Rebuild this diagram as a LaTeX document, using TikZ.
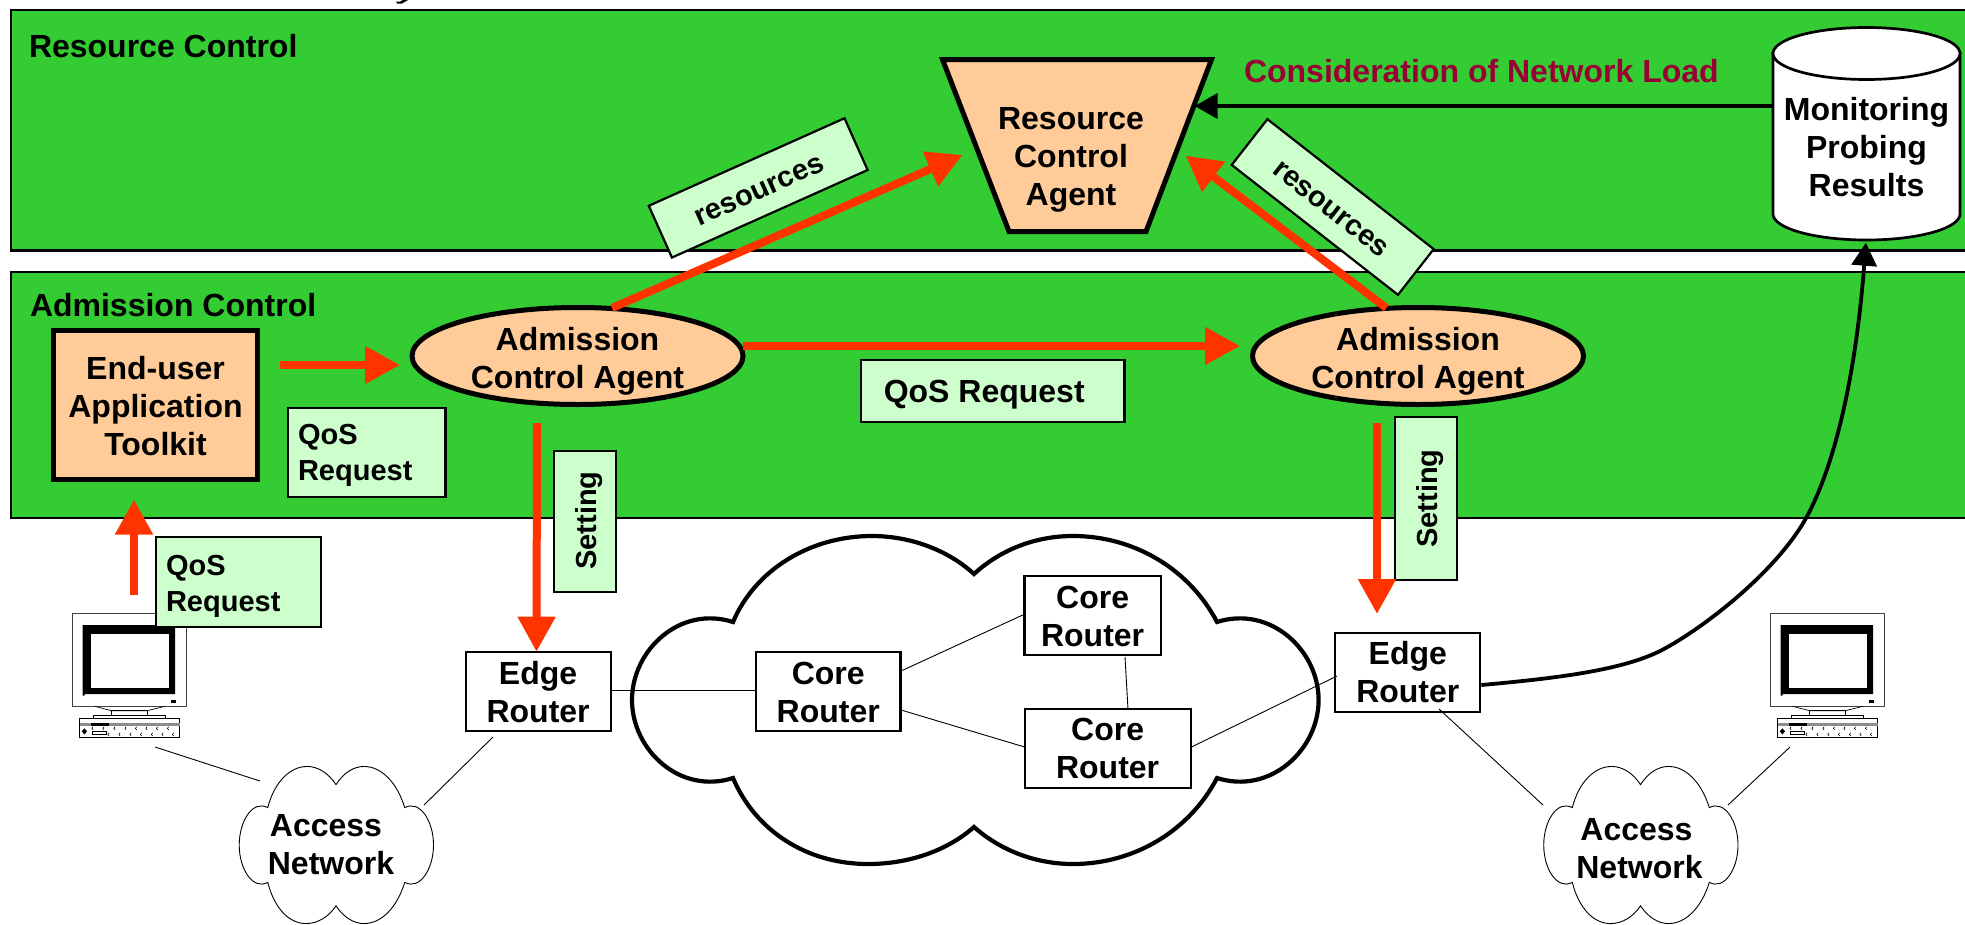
\documentclass[tikz,border=0pt]{standalone}
\usepackage{fontspec}
\setmainfont{Liberation Sans}
\usetikzlibrary{arrows.meta,shapes.geometric,calc}
\definecolor{panelgreen}{HTML}{33CC33}
\definecolor{peach}{HTML}{FFCC99}
\definecolor{palegreen}{HTML}{CCFFCC}
\definecolor{arrowred}{HTML}{FF3300}
\definecolor{loadred}{HTML}{990033}
% text block: dx from the node centre, raise of the last baseline, lines
\newcommand\tc[3]{\makebox[0pt][c]{\kern\dimexpr 2\dimexpr #1pt\relax\relax\raisebox{#2pt}[0pt][0pt]{\begin{tabular}[b]{@{}c@{}}#3\end{tabular}}}}
\newcommand\tll[3]{\makebox[0pt][l]{\kern#1pt\raisebox{#2pt}[0pt][0pt]{\begin{tabular}[b]{@{}l@{}}#3\end{tabular}}}}
\newcommand\cloudpath{(0,-126) .. controls (26,-150) and (61,-164) .. (99,-164) .. controls (161,-164) and (216,-130) .. (243,-78) .. controls (296,-95) and (344.6,-50) .. (344.6,0) .. controls (344.6,50) and (296,95) .. (243,78) .. controls (216,130) and (161,164) .. (99,164) .. controls (61,164) and (26,150) .. (0,127) .. controls (-26,150) and (-64,164) .. (-106,164) .. controls (-168,164) and (-219,130) .. (-241,78) .. controls (-294,95) and (-342,50) .. (-342,0) .. controls (-342,-50) and (-294,-95) .. (-241,-78) .. controls (-219,-130) and (-164,-164) .. (-102,-164) .. controls (-64,-164) and (-26,-150) .. (0,-126) -- cycle}
\newcommand\pcicon{%
  \draw[line width=.9,draw=black!75,fill=white] (72.3,613.7) rectangle (186.6,706.3);
  \fill[black] (82.6,625) -- (175,625) -- (175,694) -- (84.5,694) -- (84.5,695.7) -- (82.6,695.7) -- cycle;
  \fill[white] (90.6,634.3) rectangle (168.8,687.7);
  \fill[black] (170.5,700) rectangle (176,703);
  \draw[line width=.7] (94.6,706.3) -- (111.6,710.7) -- (147.3,710.7) -- (165,706.3);
  \draw[line width=.7] (111.6,710.7) rectangle (147.3,715);
  \draw[line width=.7] (93.7,715) rectangle (165.6,718.5);
  \draw[line width=.7,fill=white] (79.5,718.3) rectangle (179.5,737.3);
  \fill[black!45] (79.5,722.7) rectangle (179.5,725.7);
  \fill[black] (90.6,722.5) rectangle (108.5,725.7);
  \fill[black] (84.4,728.3) -- (87,731.3) -- (84.4,734.5) -- (81.8,731.3) -- cycle;
  \draw[line width=.6] (92.4,731) rectangle (106.3,734.7);
  \foreach \kx in {92.5,103.5,114.5,125.5,136,146.5,157,168}{\draw[line width=.6] (\kx+.6,726.8) -- (\kx-.6,728.4) -- (\kx+.6,729.9);}
  \foreach \kx in {108.5,119.5,130.5,141,152,162.5,173}{\draw[line width=.6] (\kx+.6,732.9) -- (\kx-.6,734.5) -- (\kx+.6,736);}
}
\tikzset{
  x=1pt,y=-1pt,
  panel/.style={draw=black,line width=2.6,fill=panelgreen},
  maintxt/.style={font=\fontsize{32}{38}\selectfont\bfseries,inner sep=0,outer sep=0},
  agentbox/.style={maintxt,rectangle,draw=black,line width=4.8,fill=peach},
  agentell/.style={maintxt,ellipse,draw=black,line width=5,fill=peach,minimum width=331,minimum height=97},
  tagbox/.style={maintxt,rectangle,draw=black,line width=2.2,fill=palegreen},
  tagsmall/.style={tagbox,font=\fontsize{29}{36}\selectfont\bfseries},
  router/.style={maintxt,rectangle,draw=black,line width=2.2,fill=white},
  redflow/.style={draw=arrowred,line width=8,-{Triangle[length=35pt,width=36pt,fill=arrowred]}},
  blackflow/.style={draw=black,line width=3.8,-{Triangle[length=23pt,width=25pt,fill=black]}},
  wire/.style={draw=black,line width=.9},
}
\begin{document}
\begin{tikzpicture}
\useasboundingbox (0,0) rectangle (1965,924);
\clip (0,0) rectangle (1965,924);
\fill[white] (0,0) rectangle (1965,924);
\fill[black] (396,1.5) -- (397,3.5) -- (402,3.5) -- (408,0) -- (403,0) -- (400,1.5) -- cycle;
% panels
\draw[panel] (11,10) rectangle (1980,250.5);
\draw[panel] (11,272) rectangle (1980,518);
\node[maintxt,anchor=base west] (rclabel) at (29,57) {Resource Control};
\node[maintxt,anchor=base west] (aclabel) at (30,316.7) {Admission Control};
\node[maintxt,anchor=base west,text=loadred] (loadlabel) at (1244,82.5) {Consideration of Network Load};
% clouds
\begin{scope}[shift={(974,700)}]
  \draw[line width=4.2,fill=white] \cloudpath;
\end{scope}
\begin{scope}[shift={(336,845)},xscale=.283,yscale=.479]
  \draw[line width=.9,fill=white] \cloudpath;
\end{scope}
\begin{scope}[shift={(1640.5,845)},xscale=.283,yscale=.479]
  \draw[line width=.9,fill=white] \cloudpath;
\end{scope}
\node[maintxt] (an1) at (337,845) {\tc{-6}{-29}{Access\kern10pt\\Network}};
\node[maintxt] (an2) at (1640.5,845) {\tc{-1}{-33}{Access\kern6pt\\Network}};
% computers
\coordinate (pc1) at (129.5,660);
\coordinate (pc2) at (1827.5,660);
\pcicon
\begin{scope}[xshift=1698pt]\pcicon\end{scope}
% cylinder
\draw[line width=2.7,fill=white] (1773,53.5) -- (1773,214) .. controls (1773,228.4) and (1814.9,240) .. (1866.5,240) .. controls (1918.1,240) and (1960,228.4) .. (1960,214) -- (1960,53.5) -- cycle;
\draw[line width=2.7,fill=white] (1773,53.5) .. controls (1773,39.1) and (1814.9,27.5) .. (1866.5,27.5) .. controls (1918.1,27.5) and (1960,39.1) .. (1960,53.5) .. controls (1960,67.9) and (1918.1,79.5) .. (1866.5,79.5) .. controls (1814.9,79.5) and (1773,67.9) .. (1773,53.5) -- cycle;
\node[maintxt,minimum width=186,minimum height=214] (mon) at (1866.5,133.5) {\tc{0}{-62.5}{Monitoring\\Probing\\Results}};
% agents
\node[agentbox,minimum width=204.5,minimum height=149.5] (endapp) at (155.5,405) {\tc{0}{-50}{End-user\\Application\\Toolkit}};
\node[agentell] (acl) at (577.5,356) {\tc{0}{-32}{Admission\\Control Agent}};
\node[agentell] (acr) at (1418,356) {\tc{0}{-32}{Admission\\Control Agent}};
\draw[line width=5,draw=black,fill=peach,line join=miter] (942.5,59.5) -- (1211.5,59.5) -- (1146,231.5) -- (1009,231.5) -- cycle;
\node[maintxt,minimum width=264,minimum height=172] (rca) at (1077,145.5) {\tc{-6}{-59.5}{Resource\\Control\\Agent}};
% routers
\node[router,minimum width=145,minimum height=79.3] (edge1) at (538.1,691.35) {\tc{0}{-31.4}{Edge\\Router}};
\node[router,minimum width=145,minimum height=79.3] (edge2) at (1407.8,672.35) {\tc{0}{-30.6}{Edge\\Router}};
\node[router,minimum width=144.4,minimum height=79.3] (core1) at (828.2,691.35) {\tc{0}{-31.4}{Core\\Router}};
\node[router,minimum width=136.2,minimum height=79] (core2) at (1092.6,615.2) {\tc{0}{-30.8}{Core\\Router}};
\node[router,minimum width=166,minimum height=78.7] (core3) at (1107.6,748.65) {\tc{0}{-30.3}{Core\\Router}};
% tags
\node[tagsmall,minimum width=157.5,minimum height=89] (qos1) at (366.7,452.5) {\tll{-68.7}{-27.5}{QoS\\Request}};
\node[tagsmall,minimum width=165,minimum height=90] (qos2) at (238.5,582) {\tll{-72.5}{-29}{QoS\\Request}};
\node[tagbox,minimum width=263.5,minimum height=61.7] (qos3) at (992.75,390.8) {\tll{-109}{-12}{QoS Request}};
\node[tagsmall,rotate=90,minimum width=141,minimum height=62] (set1) at (585,521.5) {\tc{1}{-11}{Setting}};
\node[tagsmall,rotate=90,minimum width=163,minimum height=62] (set2) at (1426,498.5) {\tc{0}{-11}{Setting}};
\node[tagsmall,rotate=24.1,minimum width=214.4,minimum height=56.7] (res1) at (758.2,187.9) {\tc{0}{-11}{resources}};
\node[tagsmall,rotate=-38,minimum width=211,minimum height=58] (res2) at (1332.7,207) {\tc{0}{-11}{resources}};
% thin links
\draw[wire] ([shift={(25.5,87)}]pc1) -- ([shift={(-77,-64)}]an1.center);
\draw[wire] ([shift={(-45.1,6)}]edge1.south) -- ([shift={(87,-40)}]an1.center);
\draw[wire] ([shift={(0,-1.35)}]edge1.east) -- ([shift={(0,-1.35)}]core1.west);
\draw[wire] ([shift={(.6,-20.35)}]core1.east) -- ([shift={(0,-1)}]core2.west);
\draw[wire] ([shift={(.6,18.65)}]core1.east) -- ([shift={(0,-1.65)}]core3.west);
\draw[wire] ([shift={(32.4,2.3)}]core2.south) -- ([shift={(20.4,0)}]core3.north);
\draw[wire] ([shift={(.9,-1.65)}]core3.east) -- ([shift={(1.7,3.65)}]edge2.west);
\draw[wire] ([shift={(31.2,-3)}]edge2.south) -- ([shift={(-97.5,-40)}]an2.center);
\draw[wire] ([shift={(-37.5,87)}]pc2) -- ([shift={(87.5,-40)}]an2.center);
% red arrows
\draw[redflow] ([shift={(22.25,-40)}]endapp.east) -- ([shift={(-12,9)}]acl.west);
\draw[redflow] ([shift={(0,-10)}]acl.east) -- ([shift={(-12.5,-10)}]acr.west);
\draw[redflow] ([shift={(34.5,.5)}]acl.north) -- ([shift={(-114.5,9.5)}]rca.center);
\draw[redflow] ([shift={(-31.6,.5)}]acr.north) -- ([shift={(108.7,10.2)}]rca.center);
\draw[redflow] ([shift={(4.5,-65)}]pc1) -- ([shift={(-21.5,19.75)}]endapp.south);
\draw[redflow] ([shift={(-40.5,18.5)}]acl.south) -- ([shift={(-1.6,0)}]edge1.north);
\draw[redflow] ([shift={(-41,18.5)}]acr.south) -- ([shift={(-30.8,-18.7)}]edge2.north);
% black arrows
\draw[blackflow] ([shift={(0,-27.5)}]mon.west) -- ([shift={(117.6,-39.5)}]rca.center);
\draw[blackflow] ([shift={(1,12.65)}]edge2.east) .. controls (1560,678) and (1620,670) .. (1658,652) .. controls (1695,634) and (1772,577) .. (1805,520) .. controls (1832,472) and (1855,385) .. ([shift={(-.6,2.2)}]mon.south);
\end{tikzpicture}
\end{document}
